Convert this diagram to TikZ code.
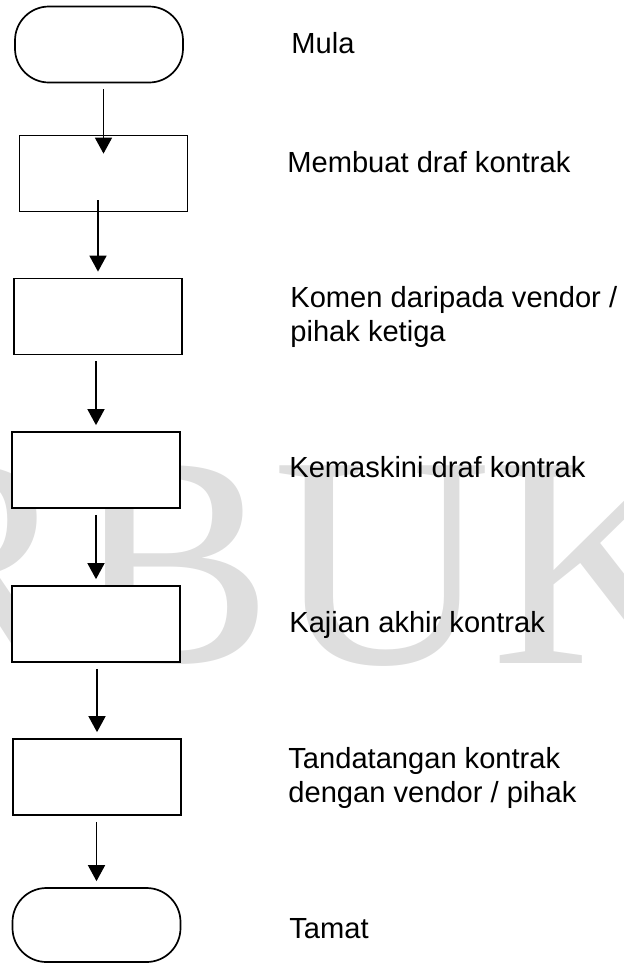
\documentclass[tikz,border=0pt]{standalone}
\usepackage{fontspec}
\setmainfont{Liberation Sans}
\newfontfamily\wmfont{Liberation Serif}
\usetikzlibrary{arrows.meta}
\tikzset{
	stepbox/.style  = {shape=rectangle, draw, fill=white, line width=0.85pt,
		minimum width=84pt, minimum height=38pt, inner sep=0pt},
	terminal/.style = {stepbox, rounded corners=17pt},
	desc/.style     = {anchor=base west, align=left, inner sep=0pt,
		font=\fontsize{14.55}{17}\selectfont},
	flow/.style     = {draw, line width=0.8pt, -{Triangle[length=8pt,width=8.5pt]},
		shorten <=3pt, shorten >=3pt}
}

\begin{document}
\begin{tikzpicture}[x=0.5pt, y=-0.5pt]
\useasboundingbox (0,0) rectangle (623,964);
\clip (0,0) rectangle (623,964);
% watermark behind everything
\node (wm) [anchor=base west, inner sep=0pt, text=black!13,
	font=\wmfont\fontsize{151}{151}\selectfont] at (-130,663) {RBUK};
% boxes
\node [terminal] (mula)   at (99,44.5)  {};
\node [stepbox]  (draf)   at (103.5,173.5) {};
\node [stepbox]  (komen)  at (98,316.5) {};
\node [stepbox]  (kemas)  at (96,470)   {};
\node [stepbox]  (kajian) at (96,624)   {};
\node [stepbox]  (tanda)  at (97,777)   {};
\node [terminal, minimum height=37pt] (tamat) at (96.5,925) {};
% descriptions (base = last line)
\node [desc] (tmula)   at (291,53)  {Mula};
\node [desc] (tdraf)   at (287,172) {Membuat draf kontrak};
\node [desc] (tkomen)  at (290,341) {Komen daripada vendor /\\pihak ketiga};
\node [desc] (tkemas)  at (289,477) {Kemaskini draf kontrak};
\node [desc] (tkajian) at (289,632) {Kajian akhir kontrak};
\node [desc] (ttanda)  at (288,802) {Tandatangan kontrak\\dengan vendor / pihak};
\node [desc] (ttamat)  at (289,938) {Tamat};
% arrows
\draw [flow, shorten >=-9.5pt] (draf.north |- mula.south) -- (draf.north);
\draw [flow, shorten <=-6pt] (komen.north |- draf.south) -- (komen.north);
\draw [flow] (kemas.north |- komen.south) -- (kemas.north);
\draw [flow] (kajian.north |- kemas.south) -- (kajian.north);
\draw [flow] (tanda.north |- kajian.south) -- (tanda.north);
\draw [flow] (tamat.north |- tanda.south) -- (tamat.north);
\end{tikzpicture}
\end{document}
